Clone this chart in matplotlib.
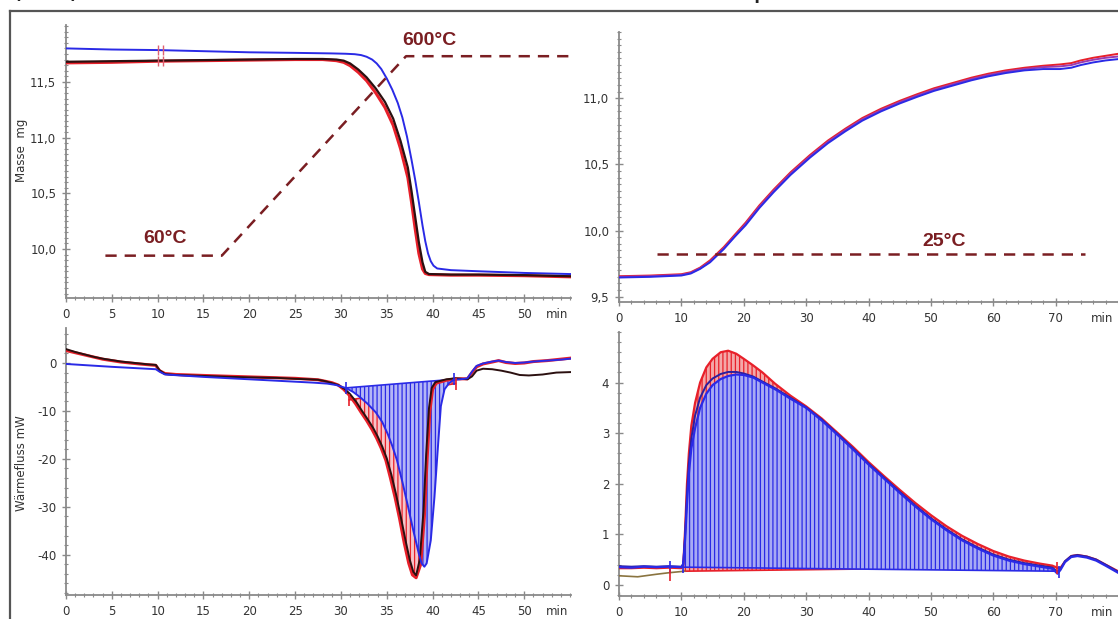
import matplotlib.pyplot as plt
import numpy as np
from matplotlib.lines import Line2D
from matplotlib.ticker import MultipleLocator

W, H = 1118, 619

# ---------- oben links: TGA Dehydratisierung ----------
tl_blue_t = [0, 5, 10, 15, 20, 25, 29, 30.5, 31.5, 32.2, 32.8, 33.4, 33.9, 34.4, 35.0, 35.6,
             36.2, 36.7, 37.2, 37.7, 38.1, 38.5, 38.9, 39.2, 39.5, 39.8, 40.1, 40.5, 42, 45,
             50, 55]
tl_blue_m = [11.80, 11.79, 11.785, 11.775, 11.765, 11.76, 11.755, 11.752, 11.748, 11.74, 11.725,
             11.70, 11.665, 11.615, 11.53, 11.43, 11.31, 11.18, 11.01, 10.80, 10.62, 10.42,
             10.21, 10.07, 9.96, 9.89, 9.85, 9.825, 9.81, 9.80, 9.785, 9.775]
tl_black_t = [0, 5, 10, 15, 20, 25, 28, 29.5, 30.3, 31.0, 31.9, 32.8, 33.8, 34.8, 35.7, 36.5,
              37.3, 37.7, 38.1, 38.5, 38.9, 39.2, 39.6, 42, 45, 50, 55]
tl_black_m = [11.68, 11.685, 11.69, 11.695, 11.70, 11.705, 11.705, 11.70, 11.69, 11.665, 11.61,
              11.54, 11.44, 11.32, 11.17, 10.97, 10.73, 10.52, 10.29, 10.06, 9.88, 9.795, 9.775,
              9.77, 9.77, 9.765, 9.755]
tl_red_m = [11.67, 11.675, 11.685, 11.69, 11.695, 11.70, 11.70, 11.69, 11.675, 11.645, 11.585,
            11.51, 11.40, 11.27, 11.11, 10.90, 10.64, 10.42, 10.18, 9.96, 9.82, 9.78, 9.77,
            9.765, 9.765, 9.76, 9.75]
# Temperaturprogramm
tl_temp_t = [4.3, 17.0, 37.1, 55.1]
tl_temp_m = [9.94, 9.94, 11.73, 11.73]

# ---------- oben rechts: TGA Rehydratisierung ----------
tr_t = [0, 5, 10, 11.5, 13, 14.6, 16.8, 18.5, 20.3, 22.5, 24.8, 27.5, 30.6, 33.5, 36.3, 39, 42,
        45, 47.8, 50.5, 53.5, 56.5, 59.2, 62, 65, 68, 70.7, 72.5, 74, 76, 78, 80]
tr_blue = [9.645, 9.65, 9.66, 9.675, 9.71, 9.76, 9.86, 9.95, 10.04, 10.17, 10.29, 10.42, 10.55,
           10.66, 10.75, 10.83, 10.90, 10.96, 11.01, 11.055, 11.095, 11.135, 11.165, 11.19,
           11.21, 11.22, 11.22, 11.23, 11.25, 11.27, 11.285, 11.295]
tr_purple = [9.65, 9.655, 9.665, 9.68, 9.715, 9.765, 9.865, 9.955, 10.05, 10.18, 10.30, 10.43,
             10.56, 10.67, 10.76, 10.84, 10.91, 10.97, 11.02, 11.065, 11.105, 11.145, 11.175,
             11.20, 11.22, 11.235, 11.24, 11.25, 11.27, 11.29, 11.305, 11.315]
tr_red = [9.655, 9.66, 9.67, 9.685, 9.72, 9.775, 9.875, 9.965, 10.06, 10.19, 10.31, 10.44,
          10.57, 10.68, 10.77, 10.85, 10.92, 10.98, 11.03, 11.075, 11.115, 11.155, 11.185,
          11.21, 11.23, 11.245, 11.255, 11.265, 11.285, 11.305, 11.32, 11.335]
tr_temp_t = [6.1, 74.7]
tr_temp_m = [9.82, 9.82]

# ---------- unten links: DSC Dehydratisierung ----------
bl_black_t = [0, 1, 2, 3, 4, 5, 6, 7, 8, 9, 9.8, 10.2, 10.8, 12, 15, 18, 20, 23, 25, 26.5, 27.5,
              28.3, 29, 29.7, 30.4, 31.0, 31.7, 32.3, 32.9, 33.5, 34.0, 34.5, 35.0, 35.5, 36.0,
              36.5, 37.0, 37.5, 37.9, 38.2, 38.6, 39.0, 39.3, 39.6, 39.9, 40.3, 41.5, 42.5,
              43.2, 43.8, 44.3, 44.8, 45.5, 46.5, 47.5, 48.5, 49.5, 50.5, 52, 53.5, 55]
bl_black_v = [2.9, 2.3, 1.8, 1.3, 0.9, 0.6, 0.3, 0.1, -0.1, -0.3, -0.4, -1.5, -2.3, -2.5, -2.7,
              -2.9, -3.0, -3.1, -3.3, -3.4, -3.5, -3.8, -4.2, -4.6, -5.4, -6.5, -8.2, -10.0,
              -11.7, -13.5, -15.3, -17.4, -19.9, -23.3, -27.3, -31.8, -36.6, -41.0, -43.6,
              -44.3, -41.0, -31.0, -19.0, -9.5, -5.2, -4.0, -3.4, -3.2, -3.3, -3.4, -2.8, -1.6,
              -1.2, -1.3, -1.6, -2.0, -2.5, -2.6, -2.4, -2.0, -1.9]
bl_red_t = [0, 2, 4, 6, 8, 9.8, 10.2, 10.8, 12, 15, 20, 25, 27.5, 29, 29.7, 30.3, 30.9, 31.6,
            32.2, 32.8, 33.4, 33.9, 34.4, 34.9, 35.4, 35.9, 36.4, 36.9, 37.4, 37.8, 38.2, 38.7,
            39.1, 39.4, 39.7, 40.0, 40.4, 41.5, 42.5, 43.2, 43.8, 44.3, 44.8, 45.5, 46.5, 47.2,
            48, 49, 50, 51, 52.5, 54, 55]
bl_red_v = [2.6, 1.7, 0.8, 0.2, -0.2, -0.5, -1.6, -2.2, -2.4, -2.6, -2.9, -3.2, -3.5, -4.1, -4.6,
            -5.5, -6.7, -8.5, -10.3, -12.0, -13.9, -15.7, -17.8, -20.3, -24.0, -28.0, -32.5,
            -37.5, -41.8, -44.2, -44.8, -42.0, -32.0, -20.0, -10.0, -5.5, -4.2, -3.6, -3.3,
            -3.3, -3.3, -2.0, -0.8, -0.2, 0.2, 0.5, 0.1, -0.1, 0.0, 0.3, 0.5, 0.8, 1.0]
bl_blue_t = [0, 5, 9.8, 10.2, 10.8, 15, 20, 25, 27, 28.5, 29.5, 30.5, 31.3, 32.0, 32.9, 33.8,
             34.5, 35.1, 35.6, 36.1, 36.7, 37.3, 37.9, 38.5, 38.8, 39.1, 39.35, 39.8, 40.2,
             40.6, 40.9, 41.3, 41.8, 42.3, 43.0, 43.8, 44.3, 44.8, 45.5, 46.5, 47.2, 48, 49,
             50, 51, 52.5, 54, 55]
bl_blue_v = [-0.2, -0.8, -1.3, -1.8, -2.4, -2.9, -3.4, -3.9, -4.1, -4.3, -4.6, -5.2, -6.0, -7.0,
             -8.5, -10.3, -12.3, -14.8, -17.3, -20.2, -24.8, -29.8, -35.0, -39.8, -41.8, -42.5,
             -41.8, -37.0, -28.0, -17.0, -9.0, -5.5, -4.2, -3.5, -3.4, -3.2, -1.8, -0.6, -0.1,
             0.3, 0.5, 0.2, 0.0, 0.1, 0.3, 0.5, 0.7, 0.9]
bl_blue_base = [(30.5, -5.2), (42.3, -3.4)]
bl_red_base = [(30.9, -7.7), (42.5, -4.3)]

# ---------- unten rechts: DSC Rehydratisierung ----------
br_t = [0, 2, 4, 6, 8, 10, 10.3, 10.6, 10.9, 11.2, 11.6, 12.2, 13.0, 14.0, 15.0, 16.3, 17.5,
        18.8, 20.0, 21.5, 23, 25, 27.5, 30, 32.5, 35, 37.5, 40, 42.5, 45, 47.5, 50, 52.5, 55,
        57.5, 60, 62.5, 65, 67.5, 69.5, 70.3, 70.8, 71.5, 72.5, 73.5, 75, 76.5, 78, 80]
br_blue = [0.35, 0.34, 0.36, 0.35, 0.36, 0.35, 0.40, 0.90, 1.60, 2.20, 2.70, 3.10, 3.50, 3.78,
           3.95, 4.07, 4.13, 4.16, 4.15, 4.10, 4.00, 3.87, 3.68, 3.50, 3.25, 2.97, 2.68, 2.38,
           2.10, 1.82, 1.55, 1.30, 1.08, 0.88, 0.72, 0.58, 0.48, 0.41, 0.36, 0.32, 0.22, 0.30,
           0.45, 0.55, 0.57, 0.54, 0.48, 0.38, 0.24]
br_navy = [0.37, 0.36, 0.37, 0.36, 0.37, 0.36, 0.42, 1.00, 1.80, 2.40, 2.90, 3.35, 3.70, 3.95,
           4.08, 4.17, 4.21, 4.21, 4.18, 4.12, 4.02, 3.89, 3.70, 3.51, 3.27, 2.99, 2.70, 2.40,
           2.12, 1.84, 1.57, 1.32, 1.10, 0.90, 0.74, 0.60, 0.50, 0.43, 0.38, 0.34, 0.26, 0.32,
           0.47, 0.57, 0.59, 0.56, 0.50, 0.40, 0.26]
br_red = [0.33, 0.33, 0.34, 0.33, 0.34, 0.33, 0.38, 1.10, 2.00, 2.60, 3.15, 3.60, 4.00, 4.30,
          4.47, 4.60, 4.63, 4.57, 4.47, 4.34, 4.20, 3.98, 3.74, 3.53, 3.29, 3.01, 2.73, 2.43,
          2.15, 1.88, 1.62, 1.38, 1.16, 0.97, 0.81, 0.67, 0.56, 0.48, 0.42, 0.38, 0.33, 0.34,
          0.46, 0.57, 0.59, 0.56, 0.50, 0.40, 0.27]
br_olive_t = [0, 3, 6, 8, 10.5]
br_olive_v = [0.18, 0.16, 0.21, 0.24, 0.27]
br_blue_base = [(10.3, 0.35), (70.3, 0.27)]
br_red_base = [(10.3, 0.27), (70.0, 0.36)]

RED = '#e8202a'
BLUE = '#2a2ae6'
BLACK = '#2b1010'
NAVY = '#2b1f9e'
PURPLE = '#9a3ab0'
MAROON = '#7a1e22'
OLIVE = '#8a7440'
AXC = '#8a8a8a'
TXT = '#333333'

plt.rcParams['font.family'] = 'DejaVu Sans'
plt.rcParams['hatch.linewidth'] = 0.9

fig = plt.figure(figsize=(W / 100, H / 100), dpi=100)


def setup(ax, xlim, ylim, xmaj, xmin_, ymaj, ymin_, ylabels, minpos):
    ax.set_xlim(*xlim)
    ax.set_ylim(*ylim)
    for s in ['top', 'right']:
        ax.spines[s].set_visible(False)
    for s in ['left', 'bottom']:
        ax.spines[s].set_color(AXC)
        ax.spines[s].set_linewidth(1.3)
    ax.set_xticks(xmaj)
    ax.set_xticklabels([str(v) for v in xmaj])
    ax.xaxis.set_minor_locator(MultipleLocator(xmin_))
    ax.set_yticks(ymaj)
    ax.set_yticklabels(ylabels)
    ax.yaxis.set_minor_locator(MultipleLocator(ymin_))
    ax.tick_params(which='major', direction='inout', length=6, width=1, color=AXC,
                   labelsize=8.5, labelcolor=TXT, pad=4)
    ax.tick_params(which='minor', direction='inout', length=3.5, width=0.8, color=AXC)
    ax.annotate('min', xy=(minpos, 0), xycoords=('data', 'axes fraction'),
                xytext=(0, -7), textcoords='offset points', ha='center', va='top',
                fontsize=8.5, color=TXT, annotation_clip=False)
    ax.patch.set_alpha(0)


def area(ax, t, v, base, face, edge, z):
    # Integrationsflaeche zwischen Kurve und gerader Basislinie
    (t0, b0), (t1, b1) = base
    t = np.asarray(t)
    v = np.asarray(v)
    m = (t >= t0) & (t <= t1)
    px = np.concatenate([[t0], t[m], [t1]])
    py = np.concatenate([[b0], v[m], [b1]])
    ax.fill(px, py, facecolor=face, edgecolor=edge, hatch='||||', linewidth=0, zorder=z)
    ax.plot([t0, t1], [b0, b1], color=edge, lw=1.2, zorder=z + 0.5)


# oben links
ax1 = fig.add_axes([66 / W, 1 - 298 / H, 505 / W, 273 / H])
setup(ax1, (0, 55.1), (9.56, 12.01), list(range(0, 51, 5)), 1,
      [10.0, 10.5, 11.0, 11.5], 0.05, ['10,0', '10,5', '11,0', '11,5'], 53.6)
ax1.plot(tl_black_t, tl_red_m, color=RED, lw=2.2, zorder=3)
ax1.plot(tl_black_t, tl_black_m, color=BLACK, lw=1.6, zorder=4)
ax1.plot(tl_blue_t, tl_blue_m, color=BLUE, lw=1.4, zorder=3)
ax1.plot([10, 10.6, 10, 10.6], [11.79, 11.79, 11.685, 11.685], ls='none', marker='|',
         ms=7, mew=1, color='#e06070', zorder=5)
ax1.plot(tl_temp_t, tl_temp_m, color=MAROON, lw=1.8, ls=(0, (4.5, 3.2)), zorder=6,
         clip_on=False)
ax1.text(10.8, 10.05, '60°C', color=MAROON, fontsize=14, fontweight='bold', ha='center',
         va='baseline', family='Liberation Sans')
ax1.text(39.7, 11.83, '600°C', color=MAROON, fontsize=14, fontweight='bold', ha='center',
         va='baseline', family='Liberation Sans')

# oben rechts
ax2 = fig.add_axes([619 / W, 1 - 302 / H, 499 / W, 270 / H])
setup(ax2, (0, 80), (9.46, 11.5), list(range(0, 71, 10)), 2,
      [9.5, 10.0, 10.5, 11.0], 0.05, ['9,5', '10,0', '10,5', '11,0'], 77.4)
ax2.plot(tr_t, tr_red, color=RED, lw=1.4, zorder=3)
ax2.plot(tr_t, tr_purple, color=PURPLE, lw=1.4, zorder=3)
ax2.plot(tr_t, tr_blue, color=BLUE, lw=1.4, zorder=4)
ax2.plot(tr_temp_t, tr_temp_m, color=MAROON, lw=1.8, ls=(0, (4.5, 3.2)), zorder=6)
ax2.text(52.2, 9.88, '25°C', color=MAROON, fontsize=14, fontweight='bold', ha='center',
         va='baseline', family='Liberation Sans')

# unten links
ax3 = fig.add_axes([66 / W, 1 - 595 / H, 505 / W, 267 / H])
setup(ax3, (0, 55.1), (-48.4, 7.3), list(range(0, 51, 5)), 1,
      [-40, -30, -20, -10, 0], 2, ['-40', '-30', '-20', '-10', '0'], 53.6)
area(ax3, bl_red_t, bl_red_v, bl_red_base, '#f6c4c8', RED, 1)
area(ax3, bl_blue_t, bl_blue_v, bl_blue_base, '#b4b6f6', BLUE, 2)
ax3.plot(bl_red_t, bl_red_v, color=RED, lw=2.2, zorder=3)
ax3.plot(bl_black_t, bl_black_v, color=BLACK, lw=1.4, zorder=4)
ax3.plot(bl_blue_t, bl_blue_v, color=BLUE, lw=1.4, zorder=4)
ax3.plot([b[0] for b in bl_blue_base], [b[1] for b in bl_blue_base], ls='none', marker='|',
         ms=9, mew=1.2, color=BLUE, zorder=5)
ax3.plot([b[0] for b in bl_red_base], [b[1] for b in bl_red_base], ls='none', marker='|',
         ms=9, mew=1.2, color=RED, zorder=5)

# unten rechts
ax4 = fig.add_axes([619 / W, 1 - 596 / H, 499 / W, 264 / H])
setup(ax4, (0, 80), (-0.22, 5.0), list(range(0, 71, 10)), 2,
      [0, 1, 2, 3, 4], 0.2, ['0', '1', '2', '3', '4'], 77.4)
area(ax4, br_t, br_red, br_red_base, '#f4a8a8', RED, 1)
area(ax4, br_t, br_blue, br_blue_base, '#a8aaf4', BLUE, 2)
ax4.plot(br_olive_t, br_olive_v, color=OLIVE, lw=1.2, zorder=3)
ax4.plot(br_t, br_red, color=RED, lw=1.6, zorder=3)
ax4.plot(br_t, br_navy, color=NAVY, lw=1.4, zorder=4)
ax4.plot(br_t, br_blue, color=BLUE, lw=1.6, zorder=4)
ax4.plot([8.2, 10.3, 70.5], [0.35, 0.35, 0.25], ls='none', marker='|', ms=9, mew=1.2,
         color=BLUE, zorder=5)
ax4.plot([8.2, 70.3], [0.2, 0.33], ls='none', marker='|', ms=8, mew=1.2, color=RED, zorder=5)

# Achsentitel
fig.text(22 / W, 1 - 150 / H, 'Masse  mg', rotation=90, ha='center', va='center',
         fontsize=8.5, color=TXT)
fig.text(22 / W, 1 - 463 / H, 'Wärmefluss mW', rotation=90, ha='center', va='center',
         fontsize=8.5, color=TXT)

# Rahmen und die oben abgeschnittene Beschriftung
fig.add_artist(Line2D([10 / W, 1], [1 - 11 / H, 1 - 11 / H], transform=fig.transFigure,
                      color='#555555', lw=1.6))
fig.add_artist(Line2D([10 / W, 10 / W], [0, 1 - 11 / H], transform=fig.transFigure,
                      color='#555555', lw=1.6))
fig.text(10 / W, 1 + 3 / H, '(OH)₂', fontsize=22, va='baseline', color='#222222')
fig.text(398 / W, 1 + 3 / H, 'H₂O', fontsize=22, va='baseline', color='#222222')
fig.text(752 / W, 1 + 3 / H, 'p', fontsize=22, va='baseline', color='#222222')

fig.savefig('out.png', dpi=100)
